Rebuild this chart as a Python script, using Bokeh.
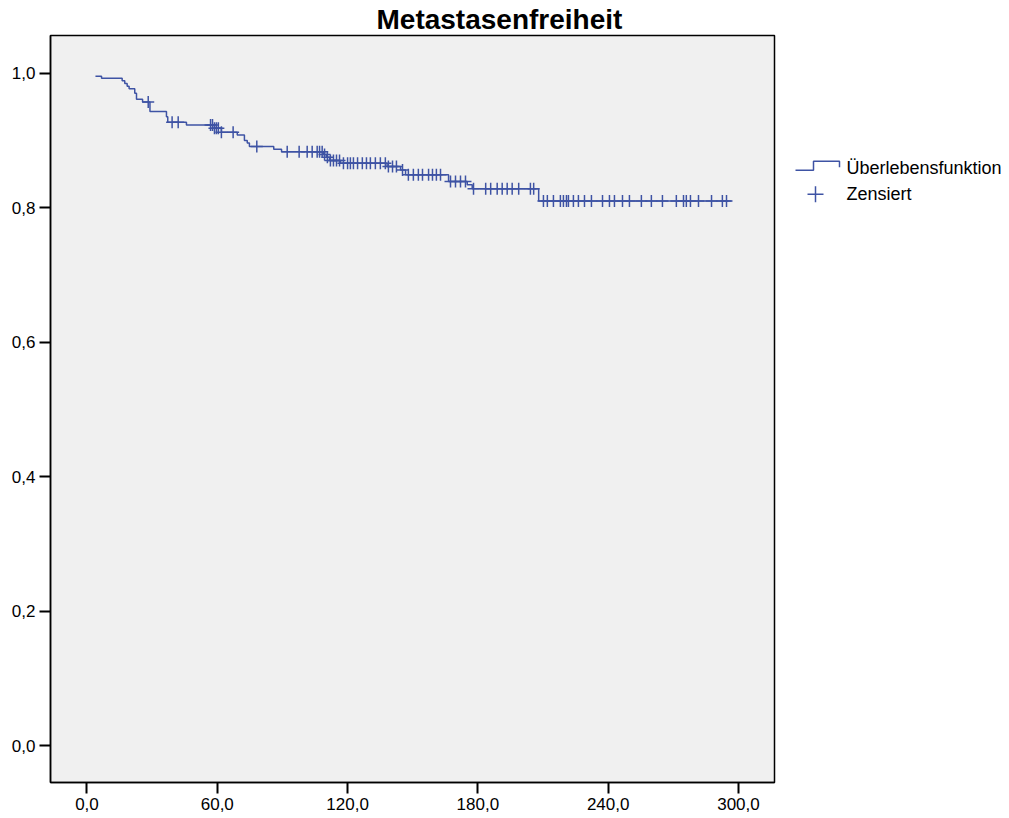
import numpy as np
from bokeh.plotting import figure
from bokeh.models import Range1d, FixedTicker
from bokeh.layouts import row
from bokeh.core.properties import value
from bokeh.embed import file_html
from bokeh.resources import INLINE

FONT = "Liberation Sans"
BLUE = "#3E53A4"

# Kaplan-Meier estimate: metastasis-free survival (months)
start_time = 3.9
start_surv = 0.9955
end_time = 296.8
event_times = [6.7, 16.2, 17.4, 18.5, 19.4, 22.0, 22.8, 25.6, 29.0, 36.6, 37.2,
               45.8, 58.7, 61.9, 69.2, 72.5, 73.8, 74.8, 86.0, 89.6, 108.8,
               110.3, 111.7, 116.7, 138.2, 144.4, 146.7, 166.5, 175.1, 177.4,
               208.0]
surv_after = [0.9926, 0.9887, 0.9847, 0.9807, 0.9768, 0.970, 0.961, 0.957, 0.943,
              0.935, 0.927, 0.923, 0.918, 0.912, 0.908, 0.900, 0.896, 0.891,
              0.887, 0.883, 0.879, 0.875, 0.870, 0.866, 0.861, 0.856, 0.849,
              0.839, 0.834, 0.828, 0.810]
censor_times = [28.2, 39.2, 42.0, 56.9, 57.8, 58.7, 59.6, 60.5, 61.9, 67.3, 78.2,
                92.2, 97.7, 101.4, 103.7, 106.0, 107.1, 108.3, 109.4, 110.7, 112.1,
                113.5, 114.9, 116.3, 118.1, 120.0, 121.3, 122.7, 124.6, 126.8,
                128.7, 130.5, 132.8, 135.1, 137.4, 138.8, 140.7, 142.5, 145.3,
                148.0, 150.3, 152.6, 154.5, 157.3, 159.1, 160.9, 162.8, 167.4,
                169.7, 172.0, 174.3, 178.0, 183.6, 185.9, 188.9, 191.2, 193.5,
                195.8, 198.8, 204.2, 205.7, 210.2, 212.0, 214.8, 218.0, 219.4,
                220.8, 221.7, 224.0, 226.3, 229.1, 232.3, 237.4, 240.6, 242.9,
                246.6, 249.8, 255.3, 259.9, 265.0, 271.4, 274.7, 276.0, 277.9,
                281.6, 287.6, 292.6, 294.5]

x_ticks = [0, 60, 120, 180, 240, 300]
x_tick_labels = ["0,0", "60,0", "120,0", "180,0", "240,0", "300,0"]
y_ticks = [0.0, 0.2, 0.4, 0.6, 0.8, 1.0]
y_tick_labels = ["0,0", "0,2", "0,4", "0,6", "0,8", "1,0"]
title_text = "Metastasenfreiheit"
legend_labels = ["Überlebensfunktion", "Zensiert"]

step_x = [start_time] + event_times + [end_time]
step_y = [start_surv] + surv_after + [surv_after[-1]]

# survival level at each censoring time
idx = np.searchsorted(np.array(step_x), np.array(censor_times), side="right") - 1
censor_surv = np.array(step_y)[idx]

p = figure(width=790, height=818,
           x_range=Range1d(-16.8, 316.6), y_range=Range1d(-0.055, 1.056),
           output_backend="svg", toolbar_location=None,
           min_border_left=50, min_border_right=16,
           min_border_top=34, min_border_bottom=36,
           background_fill_color="#F0F0F0", border_fill_color="white")

p.title.text = title_text
p.title.align = "left"
p.title.offset = 326
p.title.text_font = FONT
p.title.text_font_size = "28px"
p.title.text_font_style = "bold"
p.title.text_color = "black"
p.title.standoff = 2

p.outline_line_color = "black"
p.outline_line_width = 1.5
p.grid.visible = False

for ax in (p.xaxis[0], p.yaxis[0]):
    ax.axis_line_color = "black"
    ax.axis_line_width = 1.5
    ax.major_tick_line_color = "black"
    ax.major_tick_line_width = 2
    ax.major_tick_in = 0
    ax.major_tick_out = 11
    ax.minor_tick_line_color = None
    ax.major_label_text_font = FONT
    ax.major_label_text_font_size = "17px"
    ax.major_label_text_color = "black"
    ax.major_label_standoff = 4

p.xaxis.ticker = FixedTicker(ticks=x_ticks)
p.xaxis.major_label_overrides = dict(zip(x_ticks, x_tick_labels))
p.yaxis.ticker = FixedTicker(ticks=y_ticks)
p.yaxis.major_label_overrides = {float(t): l for t, l in zip(y_ticks, y_tick_labels)}
p.yaxis.major_label_overrides.update({0: "0,0", 1: "1,0"})

p.step(step_x, step_y, mode="after", line_color=BLUE, line_width=1.5)
p.scatter(censor_times, censor_surv, marker="cross", size=12,
          line_color=BLUE, line_width=1.5)

# legend panel; its frame is aligned with the main frame (pixel rows 34..782),
# so the y range is expressed in page pixel rows
leg = figure(width=219, height=818, x_range=Range1d(0, 219), y_range=Range1d(782, 34),
             output_backend="svg", toolbar_location=None, min_border=0, title=None,
             x_axis_location=None, y_axis_location=None,
             background_fill_color="white", border_fill_color="white",
             outline_line_color=None)
leg.grid.visible = False
leg.line([5, 23, 23, 49, 49], [169, 169, 160, 160, 166], line_color=BLUE, line_width=1.5)
leg.scatter([25], [193], marker="cross", size=16, line_color=BLUE, line_width=1.5)
leg.text([56, 56], [167, 193], text=legend_labels, text_font=value(FONT),
         text_font_size="18px", text_baseline="middle", text_align="left",
         text_color="black")

layout = row(p, leg)
open("out.html", "w").write(file_html(layout, INLINE))
